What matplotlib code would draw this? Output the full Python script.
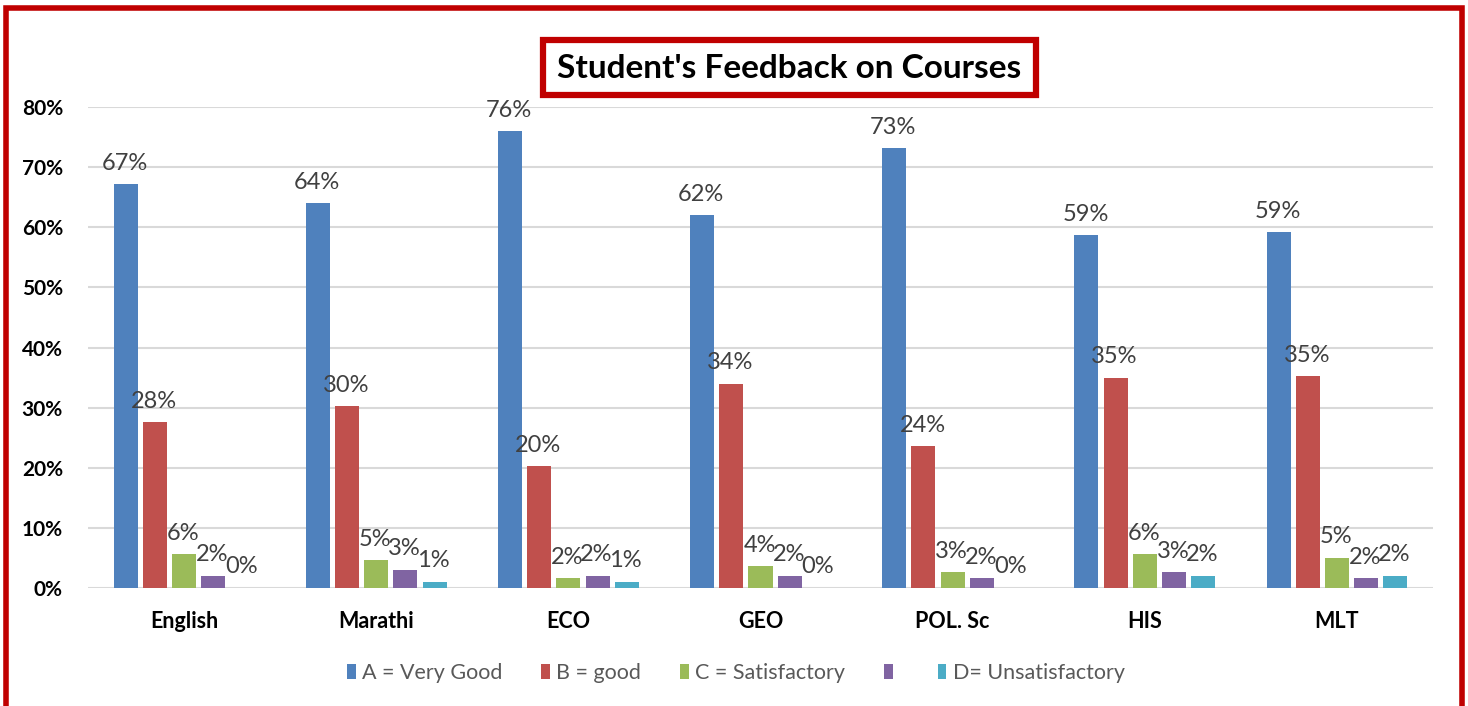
import matplotlib
matplotlib.use("Agg")
import matplotlib.pyplot as plt
import numpy as np
from matplotlib.patches import Rectangle, Patch

plt.rcParams['font.family'] = ['Lato', 'DejaVu Sans']

courses = ["English", "Marathi", "ECO", "GEO", "POL. Sc", "HIS", "MLT"]
series_names = ["A = Very Good", "B = good", "C = Satisfactory", "", "D= Unsatisfactory"]
very_good = [0.672, 0.640, 0.760, 0.620, 0.732, 0.587, 0.592]
good = [0.276, 0.303, 0.203, 0.340, 0.236, 0.350, 0.353]
satisfactory = [0.056, 0.046, 0.016, 0.036, 0.026, 0.056, 0.050]
unnamed = [0.020, 0.030, 0.020, 0.020, 0.016, 0.026, 0.016]
unsatisfactory = [0.000, 0.010, 0.010, 0.000, 0.000, 0.020, 0.020]
colors = ["#4F81BD", "#C0504D", "#9BBB59", "#8064A2", "#4BACC6"]
yticks = [0, 0.1, 0.2, 0.3, 0.4, 0.5, 0.6, 0.7, 0.8]
title = "Student's Feedback on Courses"

series = [very_good, good, satisfactory, unnamed, unsatisfactory]

W, H = 1468, 706
fig = plt.figure(figsize=(W / 100, H / 100), dpi=100)
ax = fig.add_axes([88 / W, 1 - 587.7 / H, (1433 - 88) / W, (587.7 - 107.3) / H])

x = np.arange(len(courses))
step = 0.152
bw = 0.125
for i, (vals, c) in enumerate(zip(series, colors)):
    pos = x + (i - 2) * step
    bars = ax.bar(pos, vals, width=bw, color=c, zorder=3)
    for b, v in zip(bars, vals):
        ax.text(b.get_x() + b.get_width() / 2 - 0.005, v + 0.017, f"{round(v * 100):d}%",
                ha='center', va='bottom', fontsize=17, color='#404040', zorder=4, clip_on=False)

ax.set_xlim(-0.5, len(courses) - 0.5)
ax.set_ylim(0, 0.8)
ax.set_yticks(yticks)
ax.set_yticklabels([f"{int(round(t * 100))}%" for t in yticks], fontsize=15, fontweight='bold')
ax.set_xticks(x)
ax.set_xticklabels(courses, fontsize=15.5, fontweight='bold')
ax.tick_params(axis='both', length=0)
ax.tick_params(axis='y', pad=18)
ax.tick_params(axis='x', pad=17)
ax.grid(axis='y', color='#D9D9D9', lw=1.5, zorder=0)
for s in ax.spines.values():
    s.set_visible(False)

handles = [Patch(facecolor=c) for c in colors]
fig.legend(handles, series_names, loc='center', bbox_to_anchor=(736 / W, 1 - 673 / H), ncol=5,
           frameon=False, fontsize=15.5, handlelength=0.4, handleheight=0.75, handletextpad=0.3,
           columnspacing=1.8, labelcolor='#595959')

# outer red border
fig.patches.append(Rectangle((5.5 / W, -0.05), (1462 - 5.5) / W, (1 - 8.5 / H) + 0.05,
                             transform=fig.transFigure, fill=False, edgecolor='#C00000', lw=4))
# title box
fig.patches.append(Rectangle((542.5 / W, 1 - 94.5 / H), (1035.5 - 542.5) / W, (94.5 - 39.5) / H,
                             transform=fig.transFigure, facecolor='white', edgecolor='#C00000',
                             lw=4.5, zorder=5))
fig.text(789 / W, 1 - 68 / H, title, ha='center', va='center', fontsize=24, fontweight='bold',
         color='black', zorder=6)

fig.savefig("out.png", dpi=100)
